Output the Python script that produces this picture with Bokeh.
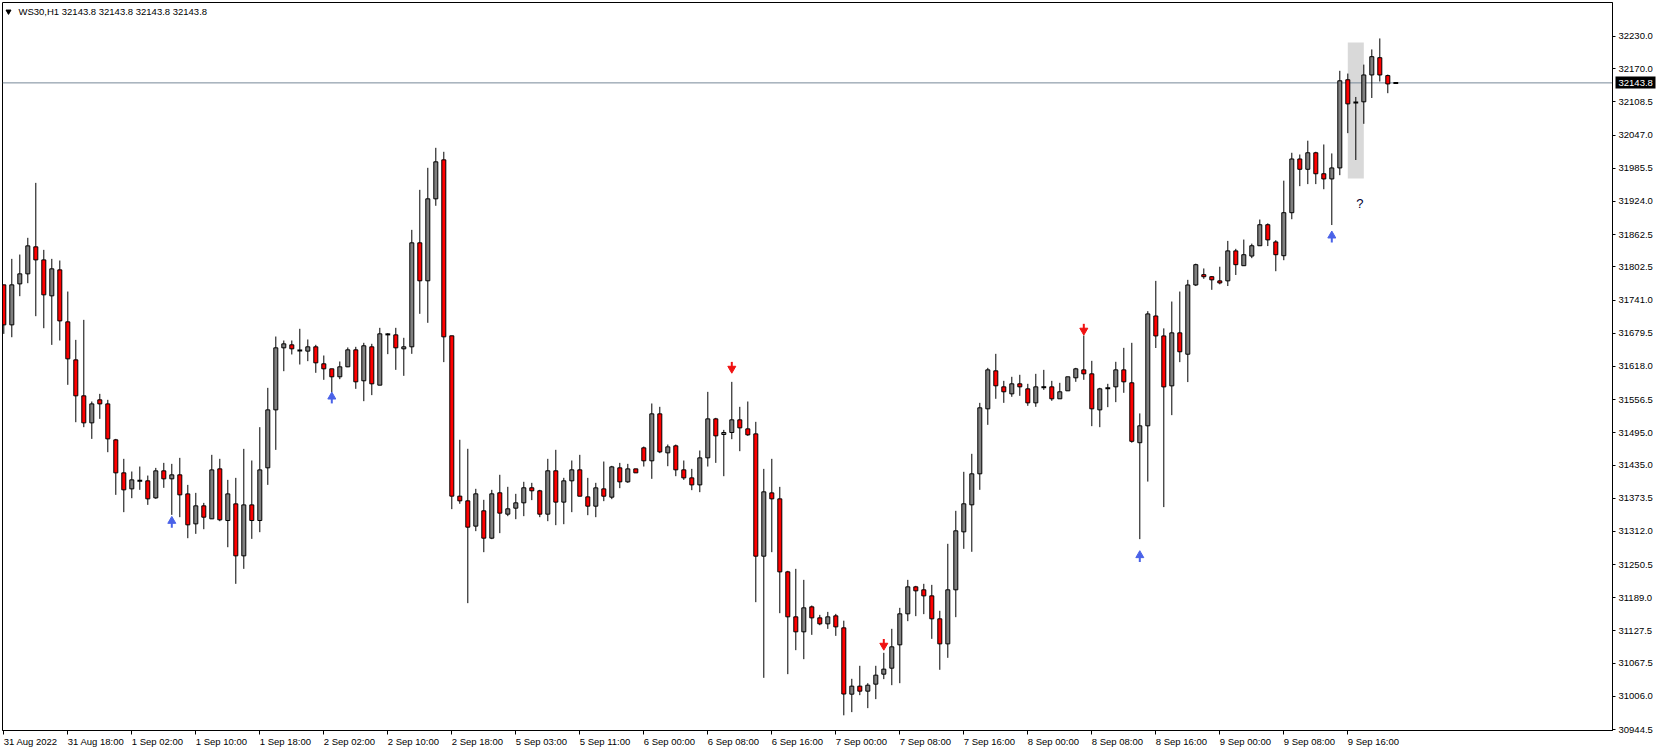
import numpy as np
from bokeh.plotting import figure
from bokeh.models import (Range1d, FixedTicker, Span, Label, BoxAnnotation,
                          ColumnDataSource, PrintfTickFormatter, LinearAxis)
from bokeh.core.properties import value
from bokeh.embed import file_html
from bokeh.resources import INLINE

# ---------------- data ----------------
symbol = "WS30,H1"
last_price = 32143.8

opens = [31769.3, 31695.1, 31771.1, 31789.7, 31839.8, 31815.6, 31748.9, 31797.1, 31700.7, 31630.2,
         31563.5, 31513.4, 31556.1, 31548.6, 31481.9, 31420.7, 31391.0, 31405.9, 31405.9, 31374.3,
         31424.4, 31409.6, 31417.0, 31381.7, 31326.1, 31359.5, 31335.4, 31428.1, 31332.3, 31363.2,
         31266.8, 31361.3, 31332.3, 31430.0, 31537.5, 31652.5, 31658.1, 31647.6, 31646.4, 31654.4,
         31622.9, 31613.6, 31598.8, 31617.3, 31648.8, 31591.4, 31654.4, 31583.3, 31677.5, 31676.6,
         31650.7, 31654.4, 31847.2, 31776.8, 31928.8, 32001.1, 31674.8, 31377.5, 31368.8, 31321.9,
         31350.3, 31299.6, 31383.7, 31344.1, 31355.2, 31365.1, 31393.0, 31387.4, 31344.1, 31424.5,
         31366.4, 31405.9, 31426.3, 31376.2, 31358.9, 31391.0, 31375.6, 31430.0, 31404.0, 31428.1,
         31467.1, 31443.0, 31530.1, 31457.8, 31470.8, 31426.3, 31411.4, 31398.4, 31448.5, 31520.8,
         31491.8, 31495.5, 31519.0, 31502.3, 31493.0, 31266.2, 31383.6, 31372.5, 31237.1, 31153.7,
         31125.9, 31172.2, 31151.8, 31140.7, 31155.5, 31133.3, 31010.3, 31025.2, 31015.9, 31028.9,
         31047.4, 31058.5, 31101.8, 31159.3, 31209.3, 31203.8, 31192.6, 31150.0, 31103.6, 31203.8,
         31311.3, 31361.4, 31418.9, 31539.4, 31609.9, 31580.2, 31567.2, 31585.8, 31576.5, 31550.5,
         31579.5, 31580.2, 31558.0, 31572.8, 31596.9, 31611.7, 31604.3, 31537.5, 31577.6, 31580.2,
         31611.7, 31587.7, 31476.6, 31507.9, 31711.6, 31674.6, 31582.0, 31680.3, 31640.7, 31769.1,
         31788.2, 31784.4, 31776.7, 31776.7, 31832.3, 31804.8, 31822.7, 31841.8, 31880.8, 31848.9,
         31823.3, 31903.1, 32002.7, 31983.6, 32014.2, 31975.3, 31965.7, 31986.1, 32149.6, 32107.5,
         32108.7, 32158.5, 32190.5, 32157.3, 32143.8]

highs = [31769.3, 31817.5, 31825.5, 31856.5, 31958.4, 31834.2, 31817.5, 31814.4, 31756.9, 31667.3,
         31704.4, 31553.0, 31567.2, 31556.1, 31483.7, 31446.7, 31423.2, 31432.4, 31415.7, 31429.9,
         31439.2, 31437.4, 31448.5, 31398.4, 31383.6, 31365.0, 31454.1, 31446.7, 31407.7, 31411.4,
         31465.2, 31443.6, 31505.4, 31578.3, 31673.5, 31666.1, 31666.1, 31687.8, 31668.0, 31658.1,
         31638.3, 31613.6, 31627.2, 31653.2, 31654.4, 31661.8, 31660.0, 31689.6, 31679.7, 31689.6,
         31671.1, 31871.3, 31945.5, 31986.3, 32023.4, 32016.0, 31674.8, 31482.0, 31465.3, 31391.1,
         31370.7, 31389.2, 31417.1, 31394.8, 31381.8, 31404.1, 31402.2, 31389.2, 31446.7, 31463.4,
         31411.5, 31443.6, 31454.1, 31411.4, 31402.2, 31441.7, 31433.7, 31439.2, 31437.4, 31428.1,
         31469.5, 31549.3, 31543.1, 31473.2, 31473.2, 31443.6, 31428.1, 31462.1, 31570.9, 31522.7,
         31500.4, 31589.4, 31543.1, 31553.0, 31515.3, 31428.1, 31446.7, 31394.7, 31239.0, 31242.7,
         31222.3, 31174.7, 31157.4, 31162.9, 31159.2, 31146.6, 31038.8, 31062.9, 31030.7, 31062.9,
         31087.0, 31131.5, 31170.4, 31222.3, 31211.2, 31214.9, 31213.0, 31164.9, 31289.1, 31350.3,
         31422.6, 31456.0, 31550.5, 31615.4, 31641.4, 31591.3, 31598.8, 31602.5, 31585.8, 31604.3,
         31611.7, 31591.3, 31587.6, 31598.8, 31615.4, 31675.4, 31628.4, 31578.4, 31585.8, 31626.6,
         31652.5, 31661.8, 31530.9, 31720.5, 31776.7, 31688.6, 31738.4, 31756.9, 31778.6, 31808.6,
         31799.7, 31785.6, 31802.9, 31850.8, 31836.1, 31853.3, 31845.7, 31890.4, 31883.3, 31852.1,
         31962.5, 32014.2, 32011.0, 32036.6, 32016.1, 32029.6, 32013.0, 32166.2, 32161.1, 32117.7,
         32177.7, 32205.8, 32226.2, 32159.2, 32143.8]

lows = [31678.4, 31672.2, 31748.3, 31772.4, 31711.2, 31688.9, 31658.0, 31666.1, 31583.9, 31514.6,
        31505.4, 31483.7, 31520.8, 31459.0, 31379.9, 31347.8, 31373.7, 31389.2, 31361.3, 31372.5,
        31392.9, 31342.8, 31338.5, 31299.5, 31307.6, 31316.2, 31335.4, 31331.1, 31282.8, 31214.9,
        31242.7, 31298.3, 31310.7, 31398.4, 31463.3, 31609.2, 31640.2, 31621.6, 31627.8, 31606.2,
        31593.2, 31570.3, 31594.4, 31616.7, 31576.5, 31553.6, 31564.8, 31583.3, 31640.8, 31611.7,
        31600.6, 31641.4, 31715.6, 31698.9, 31915.9, 31626.0, 31353.4, 31363.3, 31179.1, 31312.6,
        31273.6, 31297.8, 31308.9, 31340.4, 31334.8, 31340.4, 31370.1, 31338.5, 31331.1, 31323.7,
        31325.5, 31347.8, 31377.4, 31342.2, 31338.5, 31368.2, 31371.9, 31392.3, 31402.2, 31420.7,
        31432.4, 31409.6, 31457.2, 31433.0, 31414.5, 31407.7, 31388.6, 31384.9, 31432.4, 31439.2,
        31414.5, 31483.1, 31460.9, 31489.3, 31180.9, 31040.6, 31273.6, 31160.5, 31047.4, 31091.9,
        31075.2, 31120.3, 31138.2, 31131.4, 31118.4, 30971.1, 30977.0, 31008.5, 30984.4, 31001.1,
        31038.2, 31027.0, 31030.7, 31145.7, 31155.0, 31158.7, 31112.9, 31055.5, 31077.7, 31153.1,
        31279.8, 31274.3, 31389.2, 31509.7, 31558.0, 31550.5, 31561.7, 31563.5, 31545.0, 31543.1,
        31574.6, 31554.3, 31558.0, 31572.8, 31589.5, 31593.2, 31507.3, 31505.4, 31542.5, 31551.8,
        31569.1, 31476.6, 31297.8, 31404.5, 31652.2, 31357.2, 31527.7, 31626.0, 31589.0, 31767.1,
        31780.5, 31760.1, 31770.3, 31767.1, 31787.6, 31804.8, 31818.8, 31841.8, 31841.2, 31794.6,
        31815.0, 31891.0, 31952.3, 31956.1, 31956.1, 31946.6, 31880.2, 31972.7, 32050.6, 32000.8,
        32067.9, 32115.8, 32146.4, 32124.7, 32143.8]

closes = [31695.1, 31769.3, 31789.7, 31841.6, 31815.6, 31750.8, 31799.0, 31702.5, 31632.1, 31563.5,
          31513.4, 31548.6, 31548.6, 31483.7, 31420.7, 31389.2, 31407.7, 31405.9, 31372.5, 31424.4,
          31409.6, 31417.0, 31379.9, 31324.3, 31359.5, 31338.5, 31426.2, 31333.6, 31381.7, 31266.8,
          31361.3, 31332.3, 31426.2, 31537.5, 31652.5, 31659.9, 31650.7, 31647.6, 31654.4, 31624.7,
          31613.6, 31598.8, 31617.3, 31648.8, 31589.5, 31656.3, 31585.8, 31678.5, 31677.5, 31652.5,
          31654.4, 31847.2, 31776.8, 31928.8, 31997.4, 31672.9, 31377.5, 31368.8, 31320.0, 31381.8,
          31299.6, 31381.8, 31346.0, 31354.0, 31365.1, 31393.0, 31387.4, 31344.1, 31424.5, 31366.4,
          31405.9, 31426.3, 31377.4, 31358.9, 31392.9, 31377.4, 31431.8, 31404.0, 31428.1, 31420.7,
          31443.0, 31530.1, 31459.6, 31468.9, 31426.3, 31411.4, 31398.4, 31448.5, 31520.8, 31489.3,
          31495.5, 31519.0, 31504.1, 31491.2, 31266.2, 31385.5, 31372.5, 31237.1, 31153.7, 31125.9,
          31170.4, 31151.8, 31140.7, 31153.7, 31135.1, 31010.6, 31025.2, 31015.9, 31027.0, 31045.6,
          31056.7, 31098.1, 31159.3, 31209.3, 31201.9, 31192.6, 31150.0, 31103.6, 31203.8, 31313.2,
          31363.3, 31418.9, 31541.3, 31611.7, 31582.1, 31571.0, 31585.8, 31580.2, 31550.5, 31580.2,
          31579.5, 31558.0, 31571.0, 31598.8, 31613.6, 31604.3, 31539.4, 31576.5, 31577.6, 31611.7,
          31589.5, 31479.2, 31507.9, 31715.4, 31674.6, 31580.1, 31680.3, 31645.2, 31769.1, 31806.7,
          31784.4, 31778.6, 31772.9, 31832.3, 31806.7, 31825.2, 31841.8, 31880.8, 31852.7, 31825.2,
          31903.1, 32002.7, 31983.6, 32014.2, 31975.3, 31965.7, 31986.1, 32147.7, 32104.9, 32107.5,
          32158.5, 32192.4, 32158.5, 32141.9, 32143.8]

x_tick_bars = [0, 8, 16, 24, 32, 40, 48, 56, 64, 72, 80, 88, 96, 104, 112, 120, 128, 136, 144, 152, 160, 168]
x_tick_labels = ["31 Aug 2022", "31 Aug 18:00", "1 Sep 02:00", "1 Sep 10:00", "1 Sep 18:00",
                 "2 Sep 02:00", "2 Sep 10:00", "2 Sep 18:00", "5 Sep 03:00", "5 Sep 11:00",
                 "6 Sep 00:00", "6 Sep 08:00", "6 Sep 16:00", "7 Sep 00:00", "7 Sep 08:00",
                 "7 Sep 16:00", "8 Sep 00:00", "8 Sep 08:00", "8 Sep 16:00", "9 Sep 00:00",
                 "9 Sep 08:00", "9 Sep 16:00"]

y_ticks = [32230.0, 32170.0, 32108.5, 32047.0, 31985.5, 31924.0, 31862.5, 31802.5, 31741.0,
           31679.5, 31618.0, 31556.5, 31495.0, 31435.0, 31373.5, 31312.0, 31250.5, 31189.0,
           31127.5, 31067.5, 31006.0, 30944.5]

arrow_bars = [21, 41, 91, 110, 135, 142, 166]
arrow_prices = [31327.3, 31557.8, 31618.1, 31104.5, 31688.7, 31263.7, 31856.4]
arrow_dirs = ["up", "up", "down", "down", "down", "up", "up"]

zone_bars = [168, 170]
zone_prices = [31966.3, 32218.6]
note_bar = 169.5
note_price = 31921.0
note_text = "?"

# ---------------- layout ----------------
FRAME_W, FRAME_H = 1610, 728
PX_BAR = 8.0
X0 = -0.1625
X1 = X0 + FRAME_W / PX_BAR
Y0, Y1 = 30942.95, 32292.86
PX_PT = FRAME_H / (Y1 - Y0)
PT = 1.0 / PX_PT          # price units per screen pixel

FONT = "Liberation Sans"
FS = "9.5px"
UP_COL = "#4A62E8"
DN_COL = "#F01212"

p = figure(frame_width=FRAME_W, frame_height=FRAME_H,
           x_range=Range1d(X0, X1), y_range=Range1d(Y0, Y1),
           y_axis_location="right", output_backend="svg", toolbar_location=None,
           min_border_left=2, min_border_top=2, min_border_right=44,
           min_border_bottom=20)
p.background_fill_color = "white"
p.border_fill_color = "white"
p.outline_line_color = "black"
p.outline_line_width = 1
p.xgrid.visible = False
p.ygrid.visible = False

# right price axis
yax = p.yaxis[0]
yax.ticker = FixedTicker(ticks=y_ticks)
yax.formatter = PrintfTickFormatter(format="%.1f")
yax.major_tick_out = 3
yax.major_tick_in = 0
yax.minor_tick_line_color = None
yax.major_label_standoff = 3
yax.major_label_text_font = FONT
yax.major_label_text_font_size = FS
yax.major_label_text_color = "black"
yax.axis_line_color = "black"
yax.major_tick_line_color = "black"

# last price tag (second right axis drawn back over the first one)
tag = LinearAxis(ticker=FixedTicker(ticks=[last_price]),
                 formatter=PrintfTickFormatter(format="%.1f"))
tag.axis_line_color = None
tag.minor_tick_line_color = None
tag.major_tick_out = 0
tag.major_tick_in = 40
tag.major_tick_line_color = "black"
tag.major_tick_line_width = 12
tag.major_tick_line_cap = "butt"
tag.major_label_standoff = -37
tag.major_label_text_font = FONT
tag.major_label_text_font_size = FS
tag.major_label_text_color = "white"
p.add_layout(tag, "right")

# bottom time axis, labels start at their tick
xax = p.xaxis[0]
xax.ticker = FixedTicker(ticks=x_tick_bars)
xax.major_label_overrides = {b: t for b, t in zip(x_tick_bars, x_tick_labels)}
xax.major_label_orientation = -1e-6
xax.major_tick_out = 4
xax.major_tick_in = 0
xax.minor_tick_line_color = None
xax.major_label_standoff = 7
xax.major_label_text_font = FONT
xax.major_label_text_font_size = FS
xax.major_label_text_color = "black"
xax.axis_line_color = "black"
xax.major_tick_line_color = "black"

# highlight zone
p.add_layout(BoxAnnotation(left=zone_bars[0], right=zone_bars[1],
                           bottom=zone_prices[0], top=zone_prices[1],
                           fill_color="#D9D9D9", fill_alpha=1.0, line_alpha=0,
                           level="underlay"))

# current price line
p.add_layout(Span(location=last_price, dimension="width", line_color="#778899",
                  line_width=1, level="underlay"))

# candles
o = np.array(opens); h = np.array(highs); l = np.array(lows); c = np.array(closes)
idx = np.arange(len(o))
p.segment(x0=idx, y0=l, x1=idx, y1=h, line_color="black", line_width=1)

body = o != c
src = ColumnDataSource(dict(
    x=idx[body],
    top=np.maximum(o, c)[body],
    bottom=np.minimum(o, c)[body],
    color=np.where(c > o, "#808080", "#FF0000")[body],
))
p.vbar(x="x", top="top", bottom="bottom", width=0.5, source=src,
       fill_color="color", line_color="black", line_width=1)

doji = ~body
p.segment(x0=idx[doji] - 0.3, y0=c[doji], x1=idx[doji] + 0.3, y1=c[doji],
          line_color="black", line_width=2)

# signal arrows (head + shaft)
ax = np.array(arrow_bars, dtype=float)
ay = np.array(arrow_prices)
up = np.array([d == "up" for d in arrow_dirs])
p.scatter(x=ax[up], y=ay[up] + 2.2 * PT, marker="triangle", size=8, color=UP_COL)
p.segment(x0=ax[up], y0=ay[up] + 1.0 * PT, x1=ax[up], y1=ay[up] - 4.5 * PT,
          line_color=UP_COL, line_width=2)
p.scatter(x=ax[~up], y=ay[~up] - 2.2 * PT, marker="inverted_triangle", size=8, color=DN_COL)
p.segment(x0=ax[~up], y0=ay[~up] - 1.0 * PT, x1=ax[~up], y1=ay[~up] + 4.5 * PT,
          line_color=DN_COL, line_width=2)

# question mark note
p.text(x=[note_bar], y=[note_price], text=[note_text], text_color="#000030",
       text_font=value(FONT), text_font_size="13px",
       text_align="center", text_baseline="middle")

# header
p.scatter(x=[X0 + 6 / PX_BAR], y=[Y1 - 9 * PT], marker="inverted_triangle",
          size=5, color="black")
p.add_layout(Label(x=X0 + 16 / PX_BAR, y=Y1, y_offset=-3,
                   text=f"{symbol}  {last_price} {last_price} {last_price} {last_price}",
                   text_align="left", text_baseline="top",
                   text_font=FONT, text_font_size=FS, text_color="black"))

open("out.html", "w").write(file_html(p, INLINE))
